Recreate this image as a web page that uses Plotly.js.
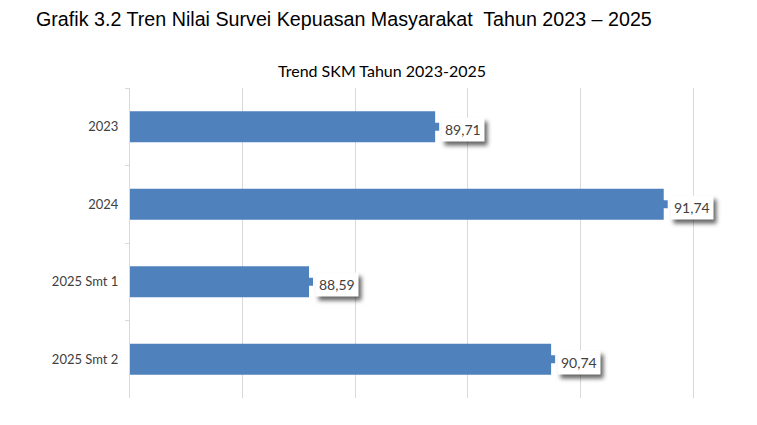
<!DOCTYPE html>
<html>
<head>
<meta charset="utf-8">
<script src="https://cdn.plot.ly/plotly-3.0.1.min.js"></script>
<style>
html, body { margin: 0; padding: 0; background: #fff; }
#skm { width: 757px; height: 425px; }
g.annotation-text-g rect.bg { filter: drop-shadow(3px 4px 2px rgba(0,0,0,0.6)); }
</style>
</head>
<body>
<div id="skm"></div>
<script>
/* data SKM */
var kategori = ['2023', '2024', '2025 Smt 1', '2025 Smt 2'];
var nilai = [89.71, 91.74, 88.59, 90.74];
var labelNilai = ['89,71', '91,74', '88,59', '90,74'];

var biru = '#4F81BD';

var trace1 = {
  y: kategori,
  x: nilai,
  type: 'bar',
  orientation: 'h',
  width: 0.4,
  marker: { color: biru },
  hoverinfo: 'none'
};

/* kotak kecil di ujung batang */
var trace2 = {
  y: kategori,
  x: nilai,
  type: 'scatter',
  mode: 'markers',
  marker: { symbol: 'square', size: 8, color: biru },
  cliponaxis: false,
  hoverinfo: 'none'
};

// y anotasi pakai indeks kategori (string '2023' dibaca sebagai indeks)
var anotasi = kategori.map(function(k, i){
  return {
    x: nilai[i], y: i, xref: 'x', yref: 'y',
    text: labelNilai[i], showarrow: false,
    xanchor: 'left', xshift: 6, yshift: -3,
    bgcolor: '#ffffff', borderpad: 3,
    font: { family: 'Lato, sans-serif', size: 14, color: '#404040' }
  };
});

anotasi.push({
  xref: 'paper', yref: 'paper', x: 0.447, y: 1.0, yshift: 18,
  xanchor: 'center', yanchor: 'middle', showarrow: false,
  text: 'Trend SKM Tahun 2023-2025',
  font: { family: 'Lato, sans-serif', size: 16, color: '#000000' }
});

var layout = {
  width: 757, height: 425,
  margin: { l: 130, r: 64, t: 88, b: 27 },
  paper_bgcolor: '#ffffff', plot_bgcolor: '#ffffff',
  showlegend: false,
  title: {
    text: 'Grafik 3.2 Tren Nilai Survei Kepuasan Masyarakat  Tahun 2023 \u2013 2025',
    x: 36 / 757, xanchor: 'left', xref: 'container',
    y: 1 - 19 / 425, yanchor: 'middle', yref: 'container',
    font: { family: 'Liberation Sans, Arial, sans-serif', size: 19.7, color: '#000000' }
  },
  xaxis: {
    range: [87, 92], dtick: 1, tick0: 87,
    showticklabels: false, showgrid: true, gridcolor: '#D9D9D9', gridwidth: 1,
    zeroline: false, showline: false, ticks: '', fixedrange: true
  },
  yaxis: {
    type: 'category',
    categoryorder: 'array', categoryarray: kategori,
    range: [kategori.length - 0.5, -0.5],
    showline: true, mirror: true, linecolor: '#D9D9D9', linewidth: 1,
    ticks: 'outside', tickson: 'boundaries', ticklen: 4, tickcolor: '#D9D9D9',
    ticklabelstandoff: 8,
    showgrid: false, zeroline: false, fixedrange: true,
    tickfont: { family: 'Lato, sans-serif', size: 13, color: '#404040' }
  },
  annotations: anotasi
};

Plotly.newPlot('skm', [trace1, trace2], layout, { displayModeBar: false, staticPlot: true });
</script>
</body>
</html>
